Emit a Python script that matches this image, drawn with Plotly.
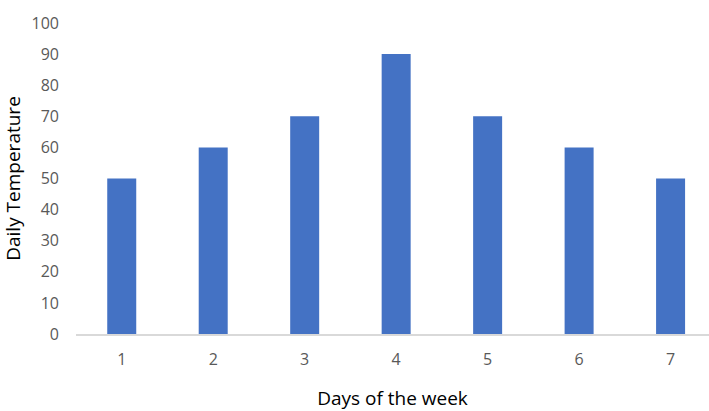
import plotly.graph_objects as go

days = ["1", "2", "3", "4", "5", "6", "7"]
temps = [50, 60, 70, 90, 70, 60, 50]
y_ticks = [0, 10, 20, 30, 40, 50, 60, 70, 80, 90, 100]

fig = go.Figure()
fig.add_trace(go.Bar(x=days, y=temps, marker=dict(color="#4472C4", line=dict(width=0))))

fig.update_layout(
    width=709, height=411,
    margin=dict(l=76, r=0, t=23, b=77),
    paper_bgcolor="white", plot_bgcolor="white",
    bargap=0.683,
    showlegend=False,
    font=dict(family="Open Sans, Liberation Sans, sans-serif", color="#595959", size=16),
    xaxis=dict(
        type="category",
        range=[-0.5, 6.42],
        automargin=False,
        showgrid=False,
        showline=True, linecolor="#D9D9D9", linewidth=2,
        ticks="", ticklabelstandoff=10,
        tickfont=dict(size=16, color="#595959"),
        title=dict(text="Days of the week", font=dict(size=19, color="#000000"), standoff=22),
    ),
    yaxis=dict(
        range=[0, 100],
        automargin=True,
        tickvals=y_ticks,
        showgrid=False, zeroline=False, showline=False,
        ticks="", ticklabelstandoff=16,
        tickfont=dict(size=16, color="#595959"),
        title=dict(text="Daily Temperature", font=dict(size=19, color="#000000"), standoff=8),
    ),
)

fig.write_html(
    "out.html",
    config={"displayModeBar": False},
    post_script="document.body.style.margin='0';document.body.style.overflow='hidden';",
)
